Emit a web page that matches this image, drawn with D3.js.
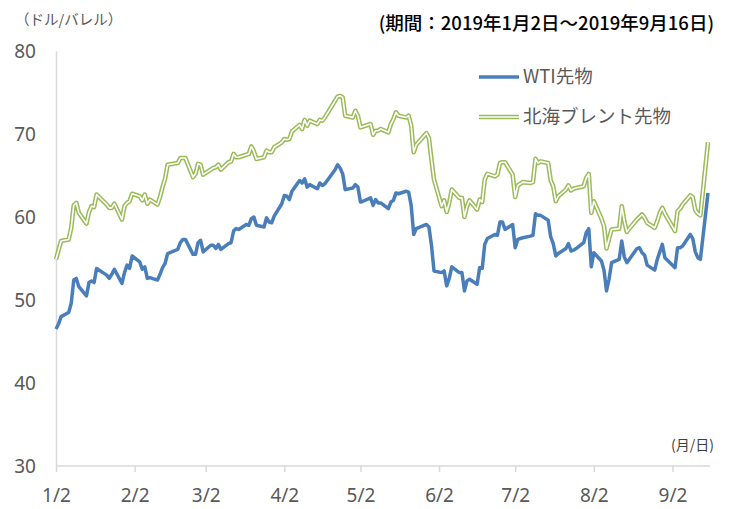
<!DOCTYPE html>
<html>
<head>
<meta charset="utf-8">
<script src="https://cdn.jsdelivr.net/npm/d3@7"></script>
<style>
  body { margin: 0; background: #fff; }
  svg { display: block; font-family: "Noto Sans CJK JP", "Noto Sans", sans-serif; }
</style>
</head>
<body>
<script>
// trading days (2019), month/day
var dates = [
  "1/2","1/3","1/4","1/7","1/8","1/9","1/10","1/11","1/14","1/15","1/16","1/17","1/18","1/22","1/23","1/24","1/25","1/28","1/29","1/30","1/31",
  "2/1","2/4","2/5","2/6","2/7","2/8","2/11","2/12","2/13","2/14","2/15","2/19","2/20","2/21","2/22","2/25","2/26","2/27","2/28",
  "3/1","3/4","3/5","3/6","3/7","3/8","3/11","3/12","3/13","3/14","3/15","3/18","3/19","3/20","3/21","3/22","3/25","3/26","3/27","3/28","3/29",
  "4/1","4/2","4/3","4/4","4/5","4/8","4/9","4/10","4/11","4/12","4/15","4/16","4/17","4/18","4/22","4/23","4/24","4/25","4/26","4/29","4/30",
  "5/1","5/2","5/3","5/6","5/7","5/8","5/9","5/10","5/13","5/14","5/15","5/16","5/17","5/20","5/21","5/22","5/23","5/24","5/28","5/29","5/30","5/31",
  "6/3","6/4","6/5","6/6","6/7","6/10","6/11","6/12","6/13","6/14","6/17","6/18","6/19","6/20","6/21","6/24","6/25","6/26","6/27","6/28",
  "7/1","7/2","7/3","7/5","7/8","7/9","7/10","7/11","7/12","7/15","7/16","7/17","7/18","7/19","7/22","7/23","7/24","7/25","7/26","7/29","7/30","7/31",
  "8/1","8/2","8/5","8/6","8/7","8/8","8/9","8/12","8/13","8/14","8/15","8/16","8/19","8/20","8/21","8/22","8/23","8/26","8/27","8/28","8/29","8/30",
  "9/3","9/4","9/5","9/6","9/9","9/10","9/11","9/12","9/13","9/16"
];

// WTI futures ($/bbl)
var wti = [
  46.5,47.1,48.0,48.5,49.6,52.4,52.6,51.6,50.5,52.1,52.3,52.1,53.8,53.0,52.6,53.1,53.7,52.0,53.3,54.2,53.8,
  55.3,54.6,53.7,54.0,52.6,52.7,52.4,53.1,53.9,54.4,55.6,56.1,56.9,57.3,57.3,55.5,55.5,56.9,57.2,
  55.8,56.6,56.6,56.2,56.7,56.1,56.8,56.9,58.3,58.6,58.5,59.1,59.0,59.8,60.0,59.0,58.8,59.9,59.4,59.3,60.1,
  61.6,62.6,62.5,62.1,63.1,64.4,64.1,64.6,63.6,63.9,63.4,64.1,63.8,64.0,65.7,66.3,65.9,65.2,63.3,63.5,63.9,
  63.6,61.8,61.9,62.3,61.4,62.1,61.7,61.7,61.0,61.8,62.0,62.9,62.8,63.1,63.0,61.4,57.9,58.6,59.1,58.8,56.6,53.5,
  53.3,53.5,51.7,52.6,54.0,53.3,53.3,51.1,52.3,52.5,51.9,53.9,53.8,56.7,57.4,57.9,57.8,59.4,59.4,58.5,
  59.1,56.3,57.3,57.5,57.7,57.8,60.4,60.2,60.2,59.6,57.6,56.8,55.3,55.6,56.2,56.8,55.9,56.0,56.2,56.9,58.1,58.6,
  54.0,55.7,54.7,53.6,51.1,52.5,54.5,54.9,57.1,55.2,54.5,54.9,56.2,56.3,55.7,55.4,54.2,53.6,54.9,55.8,56.7,55.1,
  53.9,56.3,56.3,56.5,57.9,57.4,55.8,55.1,54.9,62.9
];

// North Sea Brent futures ($/bbl)
var brent = [
  54.9,56.0,57.1,57.3,58.7,61.4,61.7,60.5,59.2,60.6,61.3,61.2,62.7,61.5,61.1,61.1,61.6,59.7,61.3,61.7,61.9,
  62.8,62.5,62.0,62.7,61.6,62.1,61.5,62.4,63.6,64.6,66.3,66.5,67.1,67.1,67.1,64.8,65.2,66.4,66.3,
  65.1,65.7,65.9,66.0,66.3,65.7,66.6,66.7,67.6,67.2,67.2,67.5,67.6,68.5,67.9,67.0,67.2,68.0,67.8,67.8,68.4,
  69.0,69.4,69.3,69.4,70.3,71.1,70.6,71.7,71.0,71.6,71.2,71.7,71.6,72.0,74.0,74.5,74.6,74.4,72.2,72.0,72.8,
  72.2,70.8,70.9,71.2,69.9,70.4,70.4,70.6,70.2,71.2,71.8,72.6,72.2,72.0,72.2,71.0,67.8,68.7,70.1,69.5,66.9,64.5,
  61.3,62.0,60.6,61.7,63.3,62.3,62.3,60.0,61.3,62.0,60.9,62.1,61.8,64.5,65.2,64.9,65.1,66.5,66.6,66.6,
  65.1,62.4,63.8,64.2,64.1,64.2,67.0,66.5,66.7,66.5,64.4,63.7,61.9,62.5,63.3,63.8,63.2,63.4,63.5,63.7,64.7,65.2,
  60.5,61.9,59.8,58.9,56.2,57.4,58.5,58.6,61.3,59.5,58.2,58.6,59.7,60.0,60.3,59.9,59.3,58.7,59.5,60.5,61.1,60.4,
  58.3,60.7,61.0,61.5,62.6,62.4,60.8,60.4,60.2,69.0
];

var seriesNames = ["WTI先物", "北海ブレント先物"];
var yTicks = [30, 40, 50, 60, 70, 80];
var xTicks = ["1/2","2/2","3/2","4/2","5/2","6/2","7/2","8/2","9/2"];
var startDay = "1/2", endDay = "9/16";

var parse = d3.timeParse("%Y/%m/%d");
function toDate(md) { return parse("2019/" + md); }

var width = 732, height = 509;
var blue = "#4a7ebb", green = "#9bbb59", axisGray = "#d9d9d9", textGray = "#595959";

var svg = d3.select("body").append("svg")
    .attr("width", width)
    .attr("height", height);

var x = d3.scaleTime()
    .domain([toDate(startDay), toDate(endDay)])
    .range([56, 708]);

var y = d3.scaleLinear()
    .domain([30, 80])
    .range([466, 51]);

// x axis
var xAxis = svg.append("g")
    .attr("transform", "translate(0," + y(30) + ")")
    .call(d3.axisBottom(x)
        .tickValues(xTicks.map(toDate))
        .tickFormat(function(d, i) { return xTicks[i]; })
        .tickSizeInner(6)
        .tickSizeOuter(0)
        .tickPadding(17));
xAxis.select(".domain").attr("stroke", axisGray).attr("stroke-width", 1.5)
    .attr("d", "M" + x.range()[0] + ",0H710");
xAxis.selectAll(".tick line").attr("stroke", axisGray).attr("stroke-width", 1.5);
xAxis.selectAll(".tick text")
    .attr("fill", textGray)
    .style("font-size", "19px")
    .style("font-family", "'Noto Sans', sans-serif");

// y axis
var yAxis = svg.append("g")
    .attr("transform", "translate(56,0)")
    .call(d3.axisLeft(y)
        .tickValues(yTicks)
        .tickSize(0)
        .tickPadding(20));
yAxis.select(".domain").attr("stroke", axisGray).attr("stroke-width", 1.5);
yAxis.selectAll(".tick text")
    .attr("fill", textGray)
    .style("font-size", "19px")
    .style("font-family", "'Noto Sans', sans-serif");

// lines
var line = d3.line()
    .x(function(d) { return x(d.date); })
    .y(function(d) { return y(d.value); });

var wtiData = dates.map(function(d, i) { return {date: toDate(d), value: wti[i]}; });
var brentData = dates.map(function(d, i) { return {date: toDate(d), value: brent[i]}; });

// brent drawn as a double line: green outer, white core
svg.append("path")
    .datum(brentData)
    .attr("d", line)
    .attr("fill", "none")
    .attr("stroke", green)
    .attr("stroke-width", 4.6)
    .attr("stroke-linejoin", "round");
svg.append("path")
    .datum(brentData)
    .attr("d", line)
    .attr("fill", "none")
    .attr("stroke", "#fff")
    .attr("stroke-width", 1.6)
    .attr("stroke-linejoin", "round");

svg.append("path")
    .datum(wtiData)
    .attr("d", line)
    .attr("fill", "none")
    .attr("stroke", blue)
    .attr("stroke-width", 3.5)
    .attr("stroke-linejoin", "round");

// legend
var legend = svg.append("g");
var ly = [77, 117];
legend.append("line")
    .attr("x1", 479).attr("x2", 519).attr("y1", ly[0]).attr("y2", ly[0])
    .attr("stroke", blue).attr("stroke-width", 3.5);
legend.append("line")
    .attr("x1", 479).attr("x2", 519).attr("y1", ly[1]).attr("y2", ly[1])
    .attr("stroke", green).attr("stroke-width", 4.6);
legend.append("line")
    .attr("x1", 479).attr("x2", 519).attr("y1", ly[1]).attr("y2", ly[1])
    .attr("stroke", "#fff").attr("stroke-width", 1.6);
legend.selectAll("text.leg")
    .data(seriesNames)
    .enter().append("text")
    .attr("class", "leg")
    .attr("x", 523)
    .attr("y", function(d, i) { return ly[i]; })
    .attr("dy", "0.35em")
    .attr("fill", textGray)
    .style("font-size", "18.5px")
    .text(function(d) { return d; });

// labels
svg.append("text")
    .attr("x", 15).attr("y", 20).attr("dy", "0.35em")
    .attr("fill", textGray)
    .style("font-size", "14.5px")
    .text("（ドル/バレル）");

svg.append("text")
    .attr("x", 714).attr("y", 24).attr("dy", "0.35em")
    .attr("text-anchor", "end")
    .attr("fill", "#000")
    .style("font-size", "18.5px")
    .style("font-weight", "500")
    .text("(期間：2019年1月2日～2019年9月16日)");

svg.append("text")
    .attr("x", 714).attr("y", 445).attr("dy", "0.35em")
    .attr("text-anchor", "end")
    .attr("fill", "#404040")
    .style("font-size", "14px")
    .text("(月/日)");
</script>
</body>
</html>
